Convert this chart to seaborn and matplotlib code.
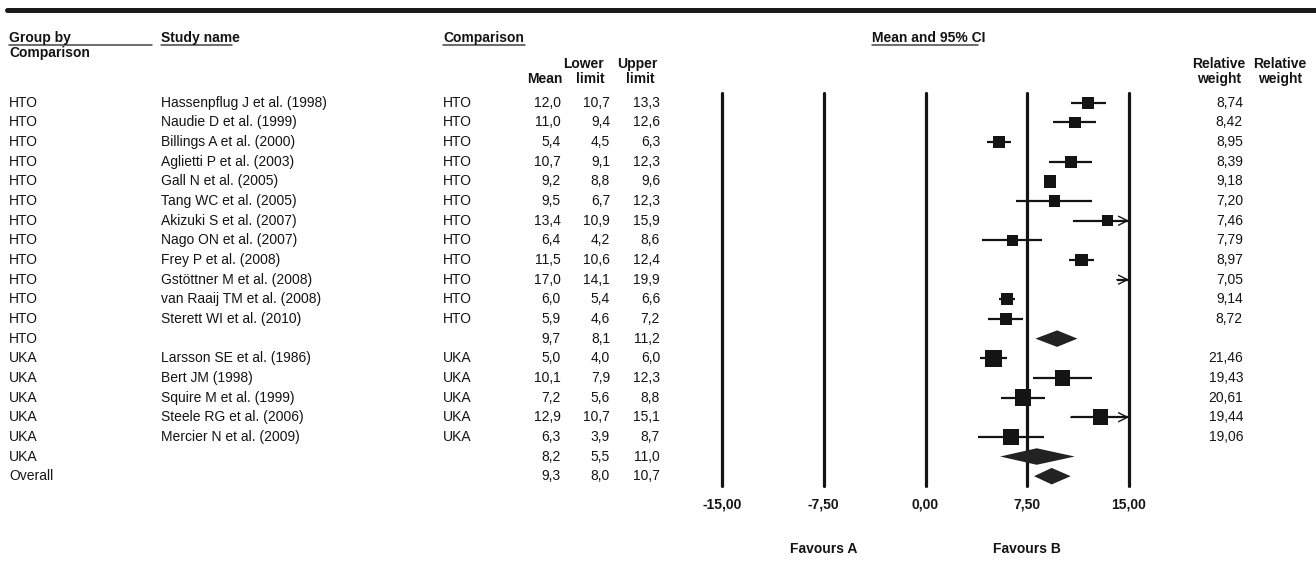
import matplotlib.pyplot as plt
import matplotlib.transforms as mtransforms
import pandas as pd
import seaborn as sns
from matplotlib.lines import Line2D

groups = ["HTO"] * 12 + ["UKA"] * 5
studies = [
    "Hassenpflug J et al. (1998)",
    "Naudie D et al. (1999)",
    "Billings A et al. (2000)",
    "Aglietti P et al. (2003)",
    "Gall N et al. (2005)",
    "Tang WC et al. (2005)",
    "Akizuki S et al. (2007)",
    "Nago ON et al. (2007)",
    "Frey P et al. (2008)",
    "Gstöttner M et al. (2008)",
    "van Raaij TM et al. (2008)",
    "Sterett WI et al. (2010)",
    "Larsson SE et al. (1986)",
    "Bert JM (1998)",
    "Squire M et al. (1999)",
    "Steele RG et al. (2006)",
    "Mercier N et al. (2009)",
]
means = [12.0, 11.0, 5.4, 10.7, 9.2, 9.5, 13.4, 6.4, 11.5, 17.0, 6.0, 5.9,
         5.0, 10.1, 7.2, 12.9, 6.3]
lowers = [10.7, 9.4, 4.5, 9.1, 8.8, 6.7, 10.9, 4.2, 10.6, 14.1, 5.4, 4.6,
          4.0, 7.9, 5.6, 10.7, 3.9]
uppers = [13.3, 12.6, 6.3, 12.3, 9.6, 12.3, 15.9, 8.6, 12.4, 19.9, 6.6, 7.2,
          6.0, 12.3, 8.8, 15.1, 8.7]
weights = [8.74, 8.42, 8.95, 8.39, 9.18, 7.20, 7.46, 7.79, 8.97, 7.05, 9.14, 8.72,
           21.46, 19.43, 20.61, 19.44, 19.06]

pooled_labels = ["HTO", "UKA", "Overall"]
pooled_means = [9.7, 8.2, 9.3]
pooled_lowers = [8.1, 5.5, 8.0]
pooled_uppers = [11.2, 11.0, 10.7]

ticks = [-15, -7.5, 0, 7.5, 15]
tick_labels = ["-15,00", "-7,50", "0,00", "7,50", "15,00"]

W, H = 1316, 578
FS = 10
INK = "#141414"


def comma(v, nd=1):
    return f"{v:.{nd}f}".replace(".", ",")


def main():
    # row layout: studies of a group, then the group's pooled row, then overall
    study_rows = [0] * len(studies)
    pooled_rows = []
    r = 0
    for g in ["HTO", "UKA"]:
        for i, gg in enumerate(groups):
            if gg == g:
                study_rows[i] = r
                r += 1
        pooled_rows.append(r)
        r += 1
    pooled_rows.append(r)

    df = pd.DataFrame({
        "group": groups, "study": studies, "mean": means,
        "lower": lowers, "upper": uppers, "weight": weights, "row": study_rows,
    })

    sns.set_theme(style="white")
    plt.rcParams["font.family"] = ["Liberation Sans", "DejaVu Sans"]

    fig = plt.figure(figsize=(W / 100, H / 100), dpi=100)
    fig.patch.set_facecolor("white")
    ax = fig.add_axes([722 / W, 1 - 486 / H, 407 / W, 393 / H])
    ax.set_facecolor("none")

    for t in ticks:
        ax.axvline(t, color=INK, lw=2.3, clip_on=False, zorder=1)

    for _, s in df.iterrows():
        lo = max(s["lower"], -15)
        hi = min(s["upper"], 15)
        ax.hlines(s["row"], lo, hi, color=INK, lw=1.6, zorder=2)
        if s["upper"] > 15:
            ax.annotate("", xy=(15, s["row"]), xytext=(lo, s["row"]),
                        arrowprops=dict(arrowstyle="->", lw=1.0, color=INK,
                                        shrinkA=0, shrinkB=0, mutation_scale=16),
                        annotation_clip=False)

    inside = df[(df["mean"] >= -15) & (df["mean"] <= 15)]
    sns.scatterplot(data=inside, x="mean", y="row", size="weight",
                    sizes=(66, 145), size_norm=(7, 22), marker="s",
                    color=INK, linewidth=0, legend=False, ax=ax, zorder=3)

    for m, lo, hi, pr in zip(pooled_means, pooled_lowers, pooled_uppers, pooled_rows):
        ax.fill([lo, m, hi, m], [pr, pr - 0.42, pr, pr + 0.42],
                color="#222222", lw=0, zorder=3)

    ax.set_xlim(-15, 15)
    ax.set_ylim(19.5, -0.5)
    ax.set_xlabel("")
    ax.set_ylabel("")
    ax.set_xticks(ticks)
    ax.set_xticklabels(tick_labels, fontweight="bold", color=INK)
    ax.set_yticks([])
    ax.tick_params(axis="x", length=0, pad=8, labelsize=FS)
    sns.despine(ax=ax, left=True, bottom=True)

    # table columns, y in data rows
    blend = mtransforms.blended_transform_factory(fig.transFigure, ax.transData)

    def cell(x_px, row, text, ha="left"):
        fig.text(x_px / W, row, text, transform=blend, ha=ha, va="center",
                 fontsize=FS, color=INK)

    for _, s in df.iterrows():
        cell(9, s["row"], s["group"])
        cell(161, s["row"], s["study"])
        cell(443, s["row"], s["group"])
        cell(561, s["row"], comma(s["mean"]), "right")
        cell(610, s["row"], comma(s["lower"]), "right")
        cell(660, s["row"], comma(s["upper"]), "right")
        cell(1243, s["row"], comma(s["weight"], 2), "right")

    for lab, m, lo, hi, pr in zip(pooled_labels, pooled_means, pooled_lowers,
                                  pooled_uppers, pooled_rows):
        cell(9, pr, lab)
        cell(561, pr, comma(m), "right")
        cell(610, pr, comma(lo), "right")
        cell(660, pr, comma(hi), "right")

    # headers, placed by baseline in pixels from the top
    def head(x_px, y_px, text, ha="left"):
        fig.text(x_px / W, 1 - y_px / H, text, ha=ha, va="baseline",
                 fontsize=FS, fontweight="bold", color=INK)

    def rule(x0, x1, y_px, lw, color):
        fig.add_artist(Line2D([x0 / W, x1 / W], [1 - y_px / H] * 2, lw=lw,
                              color=color, transform=fig.transFigure))

    rule(7, W, 10, 3.6, "#1a1a1a")

    head(9, 42, "Group by")
    head(9, 57, "Comparison")
    rule(9, 152, 45, 1.1, "#444444")
    head(161, 42, "Study name")
    rule(161, 232, 45, 1.1, "#444444")
    head(443, 42, "Comparison")
    rule(443, 525, 45, 1.1, "#444444")
    head(872, 42, "Mean and 95% CI")
    rule(872, 978, 45, 1.1, "#444444")

    head(563, 83, "Mean", "right")
    head(604, 68, "Lower", "right")
    head(605, 83, "limit", "right")
    head(658, 68, "Upper", "right")
    head(655, 83, "limit", "right")
    for cx in [1219, 1280]:
        head(cx, 68, "Relative", "center")
        head(cx, 83, "weight", "center")

    fav = mtransforms.blended_transform_factory(ax.transData, fig.transFigure)
    for x, text in [(-7.5, "Favours A"), (7.5, "Favours B")]:
        fig.text(x, 1 - 549 / H, text, transform=fav, ha="center", va="center",
                 fontsize=FS, fontweight="bold", color=INK)

    fig.savefig("out.png", dpi=100, facecolor="white")
    plt.close(fig)


if __name__ == "__main__":
    main()
